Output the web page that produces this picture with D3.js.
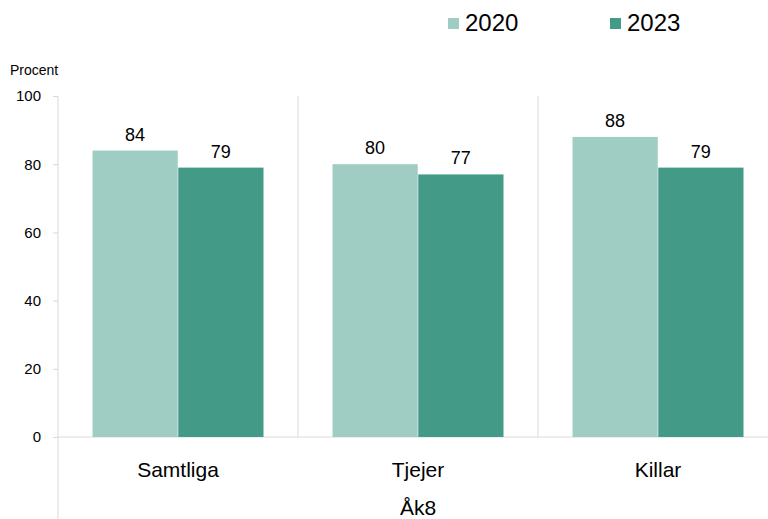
<!DOCTYPE html>
<html>
<head>
  <meta charset="utf-8" />
  <script src="https://d3js.org/d3.v7.min.js"></script>
  <style>
    body { margin: 0; font-family: 'Liberation Sans', Arial, sans-serif; background: white; }
  </style>
</head>
<body>
  <svg id="chart" width="768" height="519"></svg>
  <script>
    const categories = ["Samtliga", "Tjejer", "Killar"];
    const years = ["2020", "2023"];
    const values2020 = [84, 80, 88];
    const values2023 = [79, 77, 79];
    const yTicks = [0, 20, 40, 60, 80, 100];
    const colors = { "2020": "#a0cdc3", "2023": "#429a87" };

    const svg = d3.select("#chart");
    const margin = { top: 96, left: 58, right: -10, bottom: 82 };
    const plotW = 768 - margin.left - margin.right;
    const plotH = 519 - margin.top - margin.bottom;
    const g = svg.append("g").attr("transform", "translate(" + margin.left + "," + margin.top + ")");

    const x = d3.scaleBand().domain(categories).range([0, plotW]);
    const xInner = d3.scaleBand().domain(years).range([34.5, x.bandwidth() - 34.5]).paddingInner(0.006);
    const y = d3.scaleLinear().domain([0, 100]).range([plotH, 0]);

    // separators between groups
    g.selectAll(".sep").data(categories.slice(1))
      .join("line")
      .attr("x1", d => x(d)).attr("x2", d => x(d))
      .attr("y1", 0).attr("y2", plotH)
      .attr("stroke", "#d9d9d9").attr("stroke-width", 1);

    // y axis
    const leftAxis = d3.axisLeft(y).tickValues(yTicks).tickSize(5).tickPadding(12);
    const ya = g.append("g").call(leftAxis);
    ya.select(".domain").remove();
    ya.selectAll(".tick line").attr("stroke", "#d9d9d9");
    ya.selectAll("text").attr("font-size", 15).attr("fill", "#000")
      .attr("font-family", "'Liberation Sans', Arial, sans-serif");

    g.append("line").attr("x1", 0).attr("x2", 0).attr("y1", 0).attr("y2", 519 - margin.top)
      .attr("stroke", "#d9d9d9");
    g.append("line").attr("x1", 0).attr("x2", plotW).attr("y1", plotH).attr("y2", plotH)
      .attr("stroke", "#d9d9d9");

    const rows = [];
    categories.forEach((c, i) => {
      rows.push({ cat: c, year: "2020", v: values2020[i] });
      rows.push({ cat: c, year: "2023", v: values2023[i] });
    });

    g.selectAll(".bar").data(rows)
      .join("rect")
      .attr("x", d => x(d.cat) + xInner(d.year))
      .attr("width", xInner.bandwidth())
      .attr("y", d => y(d.v))
      .attr("height", d => plotH - y(d.v))
      .attr("fill", d => colors[d.year]);

    g.selectAll(".val").data(rows)
      .join("text")
      .attr("x", d => x(d.cat) + xInner(d.year) + xInner.bandwidth() / 2)
      .attr("y", d => y(d.v) - 10)
      .attr("text-anchor", "middle")
      .attr("font-size", 18)
      .text(d => d.v);

    g.selectAll(".cat").data(categories)
      .join("text")
      .attr("x", d => x(d) + x.bandwidth() / 2)
      .attr("y", plotH + 40)
      .attr("text-anchor", "middle")
      .attr("font-size", 21)
      .text(d => d);

    g.append("text")
      .attr("x", plotW / 2)
      .attr("y", plotH + 78)
      .attr("text-anchor", "middle")
      .attr("font-size", 21)
      .text("Åk8");

    svg.append("text").attr("x", 10).attr("y", 75).attr("font-size", 14).text("Procent");

    // legend
    const legendX = [448, 610];
    const legend = svg.selectAll(".leg").data(years).join("g")
      .attr("transform", (d, i) => "translate(" + legendX[i] + ",18)");
    legend.append("rect").attr("width", 11).attr("height", 11).attr("fill", d => colors[d]);
    legend.append("text").attr("x", 17).attr("y", 13).attr("font-size", 24).text(d => d);
  </script>
</body>
</html>
